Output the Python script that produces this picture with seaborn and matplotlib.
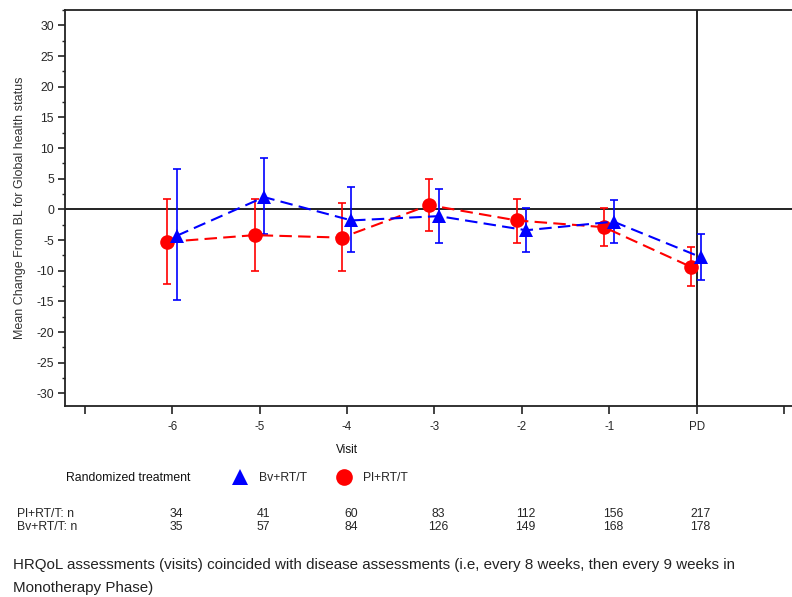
import numpy as np
import pandas as pd
import matplotlib
matplotlib.use("Agg")
import matplotlib.pyplot as plt
import matplotlib.transforms as mtransforms
from matplotlib.lines import Line2D
from matplotlib.ticker import MultipleLocator
import seaborn as sns

# 数据
visits = ["-6", "-5", "-4", "-3", "-2", "-1", "PD"]
groups = ["Pl+RT/T", "Bv+RT/T"]

pl_mean = [-5.3, -4.2, -4.6, 0.7, -1.8, -2.9, -9.4]
pl_low = [-12.2, -10.1, -10.1, -3.5, -5.4, -6.0, -12.5]
pl_high = [1.7, 1.7, 1.1, 4.9, 1.7, 0.3, -6.2]

bv_mean = [-4.3, 2.0, -1.8, -1.1, -3.4, -2.0, -7.8]
bv_low = [-14.7, -4.0, -6.9, -5.4, -6.9, -5.4, -11.5]
bv_high = [6.6, 8.3, 3.7, 3.4, 0.3, 1.5, -4.0]

pl_n = [34, 41, 60, 83, 112, 156, 217]
bv_n = [35, 57, 84, 126, 149, 168, 178]

colors = {"Pl+RT/T": "#ff0000", "Bv+RT/T": "#0000ff"}
markers = {"Pl+RT/T": "o", "Bv+RT/T": "^"}
offsets = {"Pl+RT/T": -0.06, "Bv+RT/T": 0.05}

sns.set_style("white")
plt.rcParams["font.family"] = ["Liberation Sans", "DejaVu Sans"]
plt.rcParams["axes.unicode_minus"] = False

rows = []
for g, m, lo, hi in [("Pl+RT/T", pl_mean, pl_low, pl_high),
                     ("Bv+RT/T", bv_mean, bv_low, bv_high)]:
    for i, v in enumerate(visits):
        rows.append({"group": g, "visit": v, "pos": i + 1 + offsets[g],
                     "mean": m[i], "low": lo[i], "high": hi[i]})
df = pd.DataFrame(rows)

fig = plt.figure(figsize=(7.92, 5.97), dpi=100)
ax = fig.add_axes([65 / 792, 1 - 405.7 / 597, 727 / 792, 395.7 / 597])

ax.axhline(0, color="#111111", lw=1.3, zorder=1)
ax.axvline(7, color="#111111", lw=1.3, zorder=1)

for g in groups:
    d = df[df["group"] == g]
    ax.errorbar(d["pos"], d["mean"],
                yerr=[d["mean"] - d["low"], d["high"] - d["mean"]],
                fmt="none", ecolor=colors[g], elinewidth=1.2,
                capsize=3.2, capthick=1.2, zorder=2)
    sns.lineplot(data=d, x="pos", y="mean", color=colors[g], ax=ax,
                 marker=markers[g], markersize=10.5 if g == "Pl+RT/T" else 9.5,
                 markeredgewidth=0, lw=1.5, linestyle=(0, (6, 3)),
                 sort=False, legend=False, zorder=3)

ax.set_xlim(-0.229, 8.092)
ax.set_ylim(-32.0, 32.5)
ax.set_xticks(range(9))
ax.set_xticklabels([""] + visits + [""])
ax.yaxis.set_major_locator(MultipleLocator(5))
ax.yaxis.set_minor_locator(MultipleLocator(2.5))
ax.set_yticks(np.arange(-30, 31, 5))
ax.tick_params(axis="x", direction="out", length=6, width=1.2, pad=5,
               labelsize=8.3, color="#222222", bottom=True)
ax.tick_params(axis="y", which="major", direction="out", length=4.8, width=1.2,
               labelsize=8.8, pad=3.2, color="#222222", left=True)
ax.tick_params(axis="y", which="minor", direction="out", length=2.4, width=1.0,
               color="#222222", left=True)

for s in ["left", "bottom", "top"]:
    ax.spines[s].set_color("#222222")
    ax.spines[s].set_linewidth(1.3)
ax.spines["right"].set_visible(False)

ax.set_ylabel("Mean Change From BL for Global health status", fontsize=9,
              color="#333333")
ax.yaxis.set_label_coords(-39 / 727, 0.5)
ax.set_xlabel("Visit", fontsize=8.6, color="#111111")
ax.xaxis.set_label_coords((3 + 0.229) / 8.321, -(444 - 405.7) / 395.7)

# 图例
fig.text(65.5 / 792, 1 - 478 / 597, "Randomized treatment", fontsize=8.8,
         va="center", ha="left", color="#111111")
handles = [Line2D([], [], color=colors[g], marker=markers[g], linestyle="none",
                  markersize=11 if g == "Bv+RT/T" else 12, markeredgewidth=0)
           for g in ["Bv+RT/T", "Pl+RT/T"]]
fig.legend(handles, ["Bv+RT/T", "Pl+RT/T"], loc="center left",
           bbox_to_anchor=(230.5 / 792, 1 - 478 / 597), ncol=2, frameon=False,
           fontsize=8.8, borderpad=0, borderaxespad=0, handlelength=1.5,
           handletextpad=0.8, columnspacing=2.3)

# 例数
trans = mtransforms.blended_transform_factory(ax.transData, fig.transFigure)
fig.text(17.3 / 792, 1 - 514 / 597, "Pl+RT/T: n", fontsize=8.8, va="center")
fig.text(17.3 / 792, 1 - 527 / 597, "Bv+RT/T: n", fontsize=8.8, va="center")
for i in range(len(visits)):
    ax.text(i + 1.045, 1 - 514 / 597, str(pl_n[i]), transform=trans,
            fontsize=8.8, ha="center", va="center")
    ax.text(i + 1.045, 1 - 527 / 597, str(bv_n[i]), transform=trans,
            fontsize=8.8, ha="center", va="center")

fig.text(12.6 / 792, 1 - 565 / 597,
         "HRQoL assessments (visits) coincided with disease assessments "
         "(i.e, every 8 weeks, then every 9 weeks in",
         fontsize=10.9, va="center", color="#222222")
fig.text(12.6 / 792, 1 - 588 / 597, "Monotherapy Phase)",
         fontsize=10.9, va="center", color="#222222")

fig.savefig("out.png", dpi=100)
